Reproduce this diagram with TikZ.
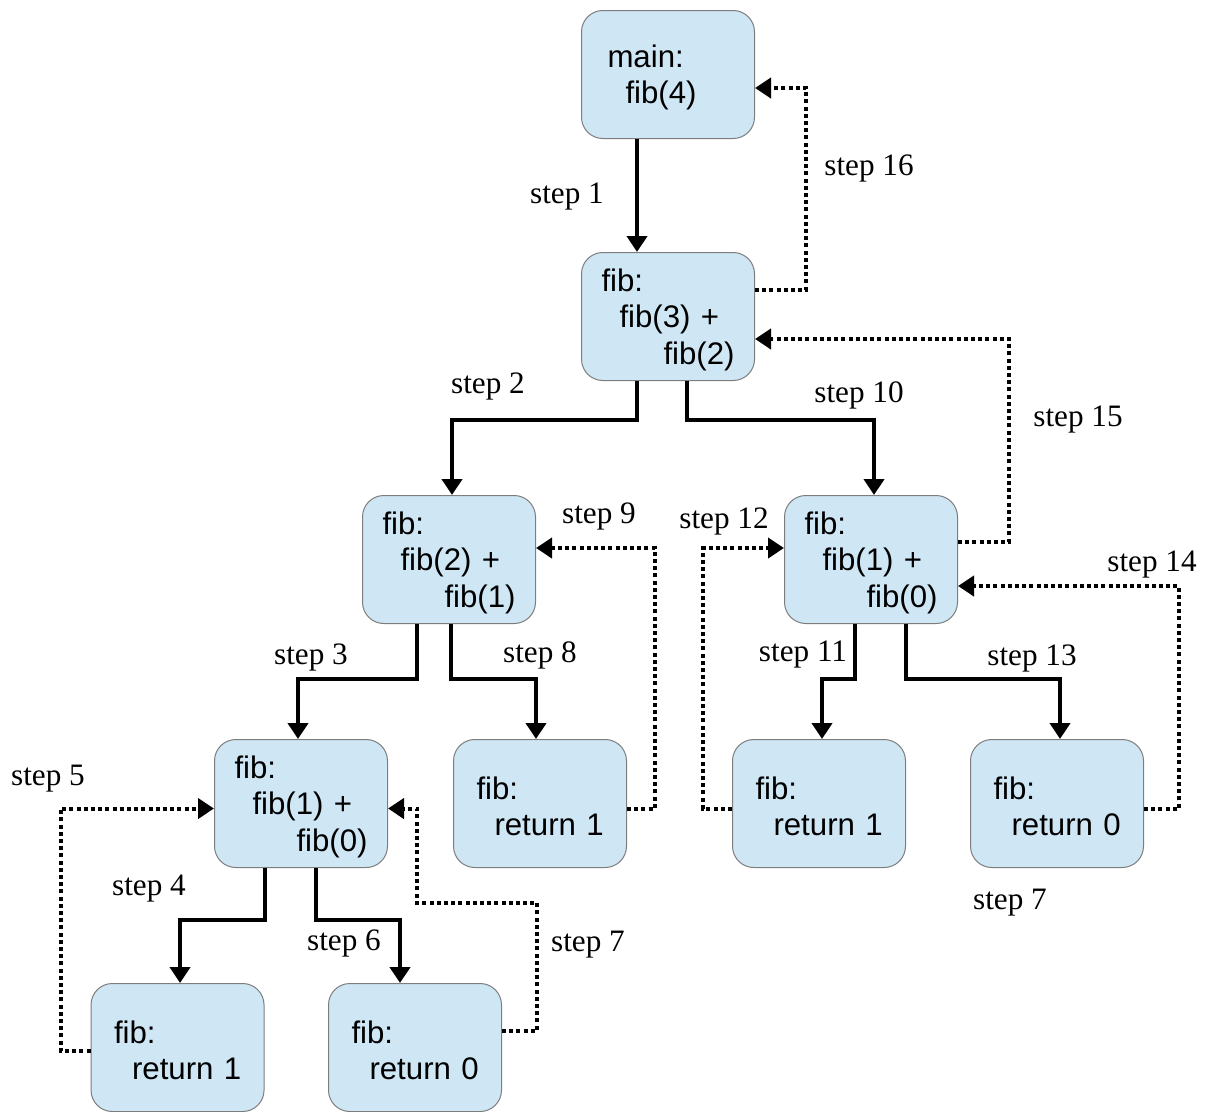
\documentclass[tikz,border=0pt]{standalone}
\usepackage{fontspec}
\setmainfont{Liberation Serif}
\setsansfont{Liberation Sans}
\usetikzlibrary{arrows.meta, positioning, calc}
\definecolor{callblue}{RGB}{207,230,244}
\definecolor{callline}{RGB}{125,125,125}
\newcommand\padtop[1]{\raisebox{0pt}[\dimexpr\height+4.5pt\relax]{#1}}

\begin{document}
\begin{tikzpicture}[
  x=0.75pt, y=-0.75pt,
  box/.style={draw=callline, line width=0.75pt, fill=callblue, rounded corners=16pt,
              text width=99.75pt, minimum height=96pt, inner xsep=15pt,
              align=left, font=\sffamily\fontsize{23.4}{27.4}\selectfont},
  arr/.style={-{Triangle[length=12pt,width=15pt]}, line width=3pt},
  ret/.style={arr, dash pattern=on 3pt off 2.4pt},
  lbl/.style={font=\fontsize{23.4}{27}\selectfont, inner sep=0pt}
]
  \useasboundingbox (0,0) rectangle (1206,1111);

  % call tree
  \node[box] (main) at (668,74.5) {\hspace*{4.5pt}\padtop{main:}\\\hspace*{18pt}fib(4)};
  \node[box, below=84.75pt of main] (fib3)
       {\padtop{fib:}\\\hspace*{13.5pt}fib(3) +\\\hspace*{46.5pt}fib(2)};
  \node[box, below left=85.5pt and 33.75pt of fib3] (fib2)
       {\padtop{fib:}\\\hspace*{13.5pt}fib(2) +\\\hspace*{46.5pt}fib(1)};
  \node[box, below right=85.5pt and 21.75pt of fib3] (fibR)
       {\padtop{fib:}\\\hspace*{13.5pt}fib(1) +\\\hspace*{46.5pt}fib(0)};
  \node[box, below=86.25pt of fib2, xshift=-111pt] (fibL)
       {\padtop{fib:}\\\hspace*{13.5pt}fib(1) +\\\hspace*{46.5pt}fib(0)};
  \node[box, below=86.25pt of fib2, xshift=68.25pt] (ret1)
       {\hspace*{2.25pt}\padtop{fib:}\\\hspace*{15.75pt}return 1};
  \node[box, below=86.25pt of fibR, xshift=-39pt] (retR1)
       {\hspace*{2.25pt}\padtop{fib:}\\\hspace*{15.75pt}return 1};
  \node[box, below=86.25pt of fibR, xshift=139.5pt] (retR0)
       {\hspace*{2.25pt}\padtop{fib:}\\\hspace*{15.75pt}return 0};
  \node[box, below=86.25pt of fibL, xshift=-92.6pt] (retL1)
       {\hspace*{2.25pt}\padtop{fib:}\\\hspace*{15.75pt}return 1};
  \node[box, below=86.25pt of fibL, xshift=85.5pt] (retL0)
       {\hspace*{2.25pt}\padtop{fib:}\\\hspace*{15.75pt}return 0};

  % calls
  \draw[arr] ($(main.south)+(-31,0)$) -- ($(fib3.north)+(-31,0)$);
  \draw[arr] ($(fib3.south)+(-31,0)$) -- ++(0,39) -| ($(fib2.north)+(3,0)$);
  \draw[arr] ($(fib3.south)+(19,0)$) -- ++(0,39) -| ($(fibR.north)+(3,0)$);
  \draw[arr] ($(fib2.south)+(-32,0)$) -- ++(0,55) -| ($(fibL.north)+(-3,0)$);
  \draw[arr] ($(fib2.south)+(2,0)$) -- ++(0,55) -| ($(ret1.north)+(-4,0)$);
  \draw[arr] ($(fibL.south)+(-36,0)$) -- ++(0,52) -| ($(retL1.north)+(2.5,0)$);
  \draw[arr] ($(fibL.south)+(15,0)$) -- ++(0,52) -| ($(retL0.north)+(-15,0)$);
  \draw[arr] ($(fibR.south)+(-16,0)$) -- ++(0,55) -| ($(retR1.north)+(3,0)$);
  \draw[arr] ($(fibR.south)+(35,0)$) -- ++(0,55) -| ($(retR0.north)+(3,0)$);

  % returns
  \draw[ret] ($(fib3.east)+(0,-26.5)$) -- ++(51,0) |- ($(main.east)+(0,13.5)$);
  \draw[ret] ($(fibR.east)+(0,-17.5)$) -- ++(51,0) |- ($(fib3.east)+(0,22.5)$);
  \draw[ret] ($(ret1.east)+(0,5)$) -- ++(28,0) |- ($(fib2.east)+(0,-11.5)$);
  \draw[ret] ($(retR1.west)+(0,5)$) -- ++(-29,0) |- ($(fibR.west)+(0,-11.5)$);
  \draw[ret] ($(retR0.east)+(0,5)$) -- ++(35,0) |- ($(fibR.east)+(0,26.5)$);
  \draw[ret] ($(retL1.west)+(0,3)$) -- ++(-30,0) |- ($(fibL.west)+(0,5)$);
  \draw[ret] ($(retL0.east)+(0,-17)$) -- ++(35,0) -- ++(0,-128) -- ++(-120,0)
             |- ($(fibL.east)+(0,5)$);

  % step labels
  \node[lbl] (s1) at (567,197) {step 1};
  \node[lbl] (s16) at (869,168) {step 16};
  \node[lbl] (s2) at (488,386) {step 2};
  \node[lbl] (s10) at (859,395) {step 10};
  \node[lbl] (s15) at (1078,420) {step 15};
  \node[lbl] (s9) at (599,516) {step 9};
  \node[lbl] (s12) at (724,521) {step 12};
  \node[lbl] (s14) at (1152,565) {step 14};
  \node[lbl] (s3) at (311,657) {step 3};
  \node[lbl] (s8) at (540,655) {step 8};
  \node[lbl] (s11) at (803,655) {step 11};
  \node[lbl] (s13) at (1032,658) {step 13};
  \node[lbl] (s5) at (48,779) {step 5};
  \node[lbl] (s4) at (149,889) {step 4};
  \node[lbl] (s6) at (344,943) {step 6};
  \node[lbl] (s7) at (588,945) {step 7};
  \node[lbl] (s7b) at (1010,903) {step 7};
\end{tikzpicture}
\end{document}
